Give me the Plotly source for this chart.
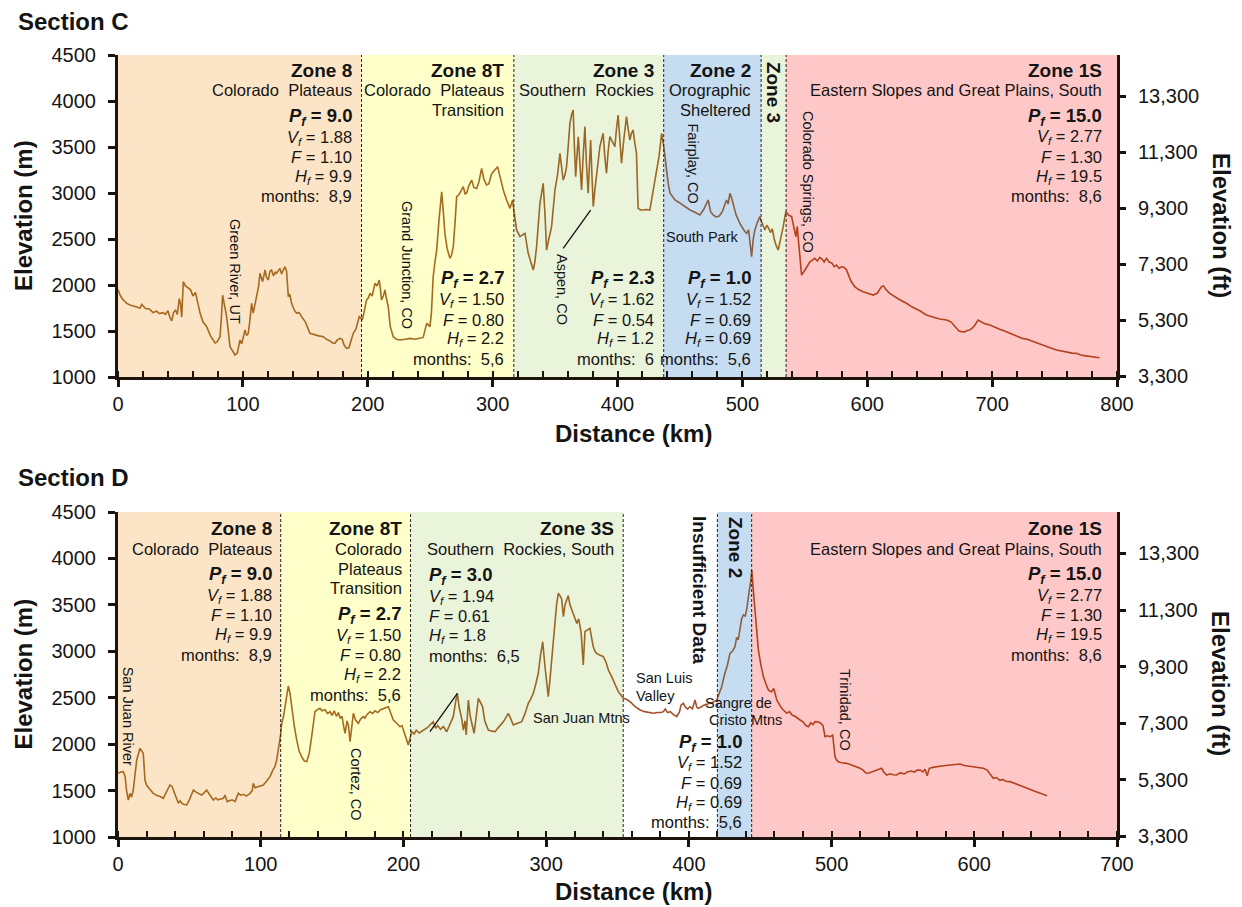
import numpy as np
import plotly.graph_objects as go

FT_PER_M = 3.28084

# ---------------- DATA ----------------
# Section C elevation profile (distance km, elevation m)
c_km = [0, 2, 4.3, 7, 9.6, 13, 15, 17.6, 19, 22, 25, 28, 31, 33, 36, 38, 40, 41.5, 43, 44.5,
        46, 47.5, 49, 50, 51, 52.3, 54, 56, 58, 60, 62, 64, 65.7, 68, 71, 74, 77.7, 79.5, 81.7, 82.8,
        83.8, 85, 87, 89.7, 91.5, 93.7, 95.5, 97.7, 99, 100.5, 101.7, 103, 104.3, 105.5, 107, 108.3, 109.5, 111, 112.5, 113.7,
        114.8, 115.8, 116.8, 117.7, 119, 120.4, 121.7, 123, 124.5, 126, 127, 128.4, 129.7, 131, 132.5, 133.7, 135, 136.4, 137.5, 139,
        140.5, 141.5, 143, 145, 147, 150, 153.7, 157, 160, 164.4, 167, 170, 172, 173.7, 175.5, 177.7, 179.5, 181, 183, 185,
        186.5, 188.4, 190.5, 192, 193.2, 194.5, 195.6, 197, 199, 200.5, 201.8, 203.5, 205.8, 207.5, 209.2, 210.2, 211, 212.5, 213.8, 215,
        216.4, 218, 220.4, 223, 225.8, 230, 233.8, 238, 241.8, 244.4, 247.2, 249.8, 251, 252.4, 253.8, 255.2, 257, 259.2, 260.5, 261.8,
        263.5, 265.8, 267, 268.5, 270, 271.2, 273, 274.5, 276.5, 278, 279.2, 281, 283.2, 285, 287.2, 289, 291.2, 293, 295.2, 297,
        299, 300.5, 302, 304, 305.5, 307.2, 309, 311.2, 313.9, 316, 317.5, 319.2, 321.9, 324, 325.9, 328.5, 330.5, 332.5, 333.8, 335.2,
        337.9, 340.5, 342, 343.2, 345, 347.2, 349.9, 352, 353.9, 355.2, 356.5, 358, 359.2, 360.5, 361.9, 363.2, 364.5, 365.5, 366.5, 367.5,
        368.6, 370, 371.2, 372.5, 373.9, 375.2, 376.5, 377.5, 378.5, 379.5, 380.6, 382, 383.3, 384.6, 385.9, 387.2, 388.5, 389.8, 391.2, 392.5,
        393.9, 395.8, 397.9, 399.2, 400.5, 401.8, 403.2, 405.2, 407.2, 408.5, 409.9, 411.2, 412.5, 413.8, 415.2, 416.5, 418.5, 420.6, 423, 425.9,
        427.3, 429.3, 431.3, 433.3, 435.3, 436.6, 437.9, 439.2, 440.6, 442, 444, 446, 449, 452, 455, 458, 462, 466, 469, 472.6,
        474.5, 476.6, 479, 481.5, 484, 486, 487.3, 488.6, 490, 491.3, 492.7, 495, 498, 500, 501.5, 503.4, 505, 506.2, 507.4, 508.7,
        510, 512, 514, 515.5, 517, 518, 519.5, 521, 522.5, 524, 525.5, 527, 528.7, 530.5, 532.7, 534.8, 537, 539.4, 541, 542.8,
        543.9, 545.5, 547.4, 549.5, 551.4, 554, 556, 558, 560, 562, 564, 565.5, 567.4, 569.5, 571.5, 573.5, 575.4, 577.5, 579.5, 581.5,
        583.4, 585, 587, 590, 593, 596.7, 600, 604.7, 608, 611.4, 613, 615, 618, 622, 626, 631.4, 636, 642, 647.4, 653,
        658, 663.5, 667, 671.5, 673.5, 675.5, 678, 680, 682.1, 684, 686, 688.8, 691, 694, 698.2, 702, 706, 710, 714.2, 719,
        724, 728, 732.8, 737, 742, 747, 751.6, 756, 760, 764, 767.6, 771, 775, 779, 783.6, 786]
c_elev = [1950, 1880, 1837, 1800, 1782, 1765, 1760, 1750, 1790, 1745, 1740, 1700, 1715, 1690, 1700, 1680, 1720, 1650, 1610, 1700,
          1730, 1680, 1850, 1800, 1650, 2036, 1990, 1970, 1950, 1880, 1920, 1800, 1695, 1600, 1547, 1450, 1370, 1385, 1438, 1650,
          1891, 1800, 1656, 1330, 1290, 1239, 1260, 1402, 1360, 1450, 1511, 1450, 1474, 1600, 1800, 1695, 1780, 1909, 1980, 2127,
          2060, 2036, 2100, 2163, 2080, 2055, 2150, 2163, 2100, 2140, 2127, 2150, 2181, 2120, 2170, 2199, 2150, 1873, 1900, 1801,
          1750, 1720, 1695, 1700, 1656, 1600, 1474, 1460, 1450, 1438, 1410, 1390, 1370, 1366, 1400, 1420, 1410, 1350, 1311, 1320,
          1390, 1474, 1520, 1600, 1656, 1640, 1620, 1700, 1837, 1860, 1909, 1880, 2018, 1990, 2054, 1950, 1837, 1880, 1946, 1850,
          1764, 1550, 1438, 1410, 1402, 1410, 1420, 1410, 1420, 1430, 1583, 1547, 1700, 2090, 2250, 2380, 2700, 3014, 2800, 2561,
          2400, 2290, 2320, 2416, 2700, 2960, 2980, 3020, 3068, 2990, 3000, 3080, 3141, 3060, 3050, 3120, 3268, 3150, 3087, 3100,
          3200, 3230, 3260, 3286, 3200, 3105, 3010, 2924, 2833, 2924, 2750, 2598, 2525, 2540, 2561, 2345, 2250, 2163, 2250, 2416,
          2888, 3105, 2750, 2380, 2500, 2634, 3032, 3200, 3431, 3300, 3141, 3200, 3286, 3500, 3757, 3850, 3902, 3500, 3177, 3400,
          3612, 3300, 3032, 3400, 3721, 3300, 2997, 3300, 3576, 3200, 2852, 3050, 3214, 3400, 3503, 3580, 3648, 3400, 3214, 3450,
          3612, 3560, 3503, 3700, 3848, 3600, 3323, 3600, 3830, 3700, 3576, 3650, 3685, 3550, 3431, 2833, 2815, 2815, 2820, 2815,
          2924, 3050, 3214, 3400, 3648, 3560, 3395, 3250, 3105, 3000, 2960, 2924, 2900, 2870, 2840, 2815, 2790, 2761, 2820, 2924,
          2800, 2761, 2740, 2750, 2800, 2870, 2924, 2880, 2997, 2950, 2888, 2760, 2670, 2620, 2590, 2561, 2600, 2450, 2308, 2500,
          2598, 2680, 2743, 2680, 2640, 2598, 2650, 2620, 2570, 2610, 2500, 2430, 2380, 2480, 2634, 2797, 2760, 2743, 2640, 2525,
          2634, 2350, 2108, 2150, 2199, 2250, 2270, 2290, 2260, 2300, 2280, 2250, 2290, 2250, 2240, 2200, 2217, 2180, 2200, 2190,
          2163, 2100, 2040, 1982, 1950, 1927, 1910, 1891, 1910, 1982, 1990, 1950, 1909, 1870, 1840, 1801, 1760, 1720, 1674, 1650,
          1630, 1620, 1600, 1529, 1500, 1493, 1490, 1505, 1511, 1530, 1560, 1620, 1600, 1580, 1565, 1540, 1520, 1500, 1474, 1450,
          1420, 1410, 1384, 1370, 1340, 1315, 1293, 1280, 1270, 1260, 1257, 1240, 1230, 1225, 1221, 1210]

# Section D elevation profile (distance km, elevation m)
d_km = [0, 2, 3.7, 5, 6, 7.2, 8.4, 9.5, 10.7, 12, 13.1, 15.4, 17.7, 18.9, 20, 22, 24.7, 27, 29, 31.7,
        34, 36.4, 38, 40, 41, 42.3, 43.5, 45, 46.5, 48.1, 50, 52.8, 55, 58.6, 60, 62.1, 64, 66.8, 68.5, 70,
        72, 73.8, 75, 76.5, 78, 80, 82, 84.3, 86, 88, 90, 92.5, 94, 94.8, 96, 98, 100, 101.8, 104, 106.5,
        108.5, 110, 111.2, 112.5, 113.5, 114.7, 116, 117, 118.2, 119.3, 120.5, 121.7, 123.5, 125.2, 127, 128.7, 130.5, 132.2, 134, 135.7,
        137, 138, 139.5, 141.5, 143, 145, 146.8, 148.6, 150, 151.5, 153, 154.5, 155.6, 157, 158, 159.1, 160.5, 161.5, 162.6, 163.7,
        164.9, 166.5, 168.4, 170, 171.9, 173, 174.5, 176.6, 178.5, 180, 182, 184, 186, 187.5, 189.4, 190.5, 192.9, 195, 197.6, 199,
        200.5, 201.5, 203.4, 205.8, 207.5, 209, 211, 213, 215, 217, 218.6, 220.9, 222.5, 224, 226, 228, 230.3, 232, 234.9, 236.5,
        237.8, 239, 240.8, 242, 243.2, 244, 245.5, 246.8, 248, 249.5, 251, 252.5, 254, 255.5, 257, 259.5, 262, 264.2, 266, 268,
        270, 272, 273.5, 275, 277, 279, 281, 282.9, 285, 287.5, 289, 291, 292.8, 294.5, 296, 297.6, 299.2, 300.5, 301.5, 302.7,
        303.9, 305, 306.2, 307.3, 308.5, 309.7, 310.9, 312.1, 313.2, 314.4, 315.5, 316.7, 317.9, 319, 320.2, 321.5, 322.8, 324.5, 326, 327.2,
        329, 330.7, 331.8, 333, 334.2, 335.4, 337.5, 340.1, 342, 343.6, 345.5, 347.1, 349, 350.6, 352.5, 354.1, 356.5, 358.8, 362, 365.8,
        369, 372, 375.1, 378, 380.5, 382.1, 383.5, 385, 387, 389, 391.5, 393.5, 394.5, 396.1, 397.5, 399, 400.8, 402.5, 404.3, 405.5,
        406.6, 408.5, 410.5, 412.5, 414.8, 417, 419.5, 421.2, 423, 425, 427, 428.8, 430.5, 432.3, 433.5, 434.6, 435.9, 437, 438.2, 439.5,
        440.5, 441.5, 442.4, 443.3, 444.1, 445.2, 446.4, 447.5, 448.7, 450.5, 452.2, 454, 455.7, 457, 458, 459.5, 461.6, 463.3, 465.1, 466.8,
        468.6, 470.5, 472.5, 474.5, 476, 477.9, 480, 482, 483.7, 485.5, 487, 488.4, 490, 492, 494, 495.4, 497, 499, 500.8, 501.6,
        502.4, 503.5, 504.7, 507, 510.6, 513, 515, 517.6, 520, 522, 524, 525.8, 528, 530, 532, 535.1, 536.5, 538.6, 541, 543,
        545.6, 548, 551, 553, 556, 558, 560, 562, 564, 565.5, 567, 568.5, 571, 574, 577, 580, 583, 586, 590, 593,
        596, 599.3, 603, 606.3, 609, 611, 613.3, 615.5, 618, 620, 622, 625, 628, 631, 634.4, 638, 641, 644, 647, 649.6, 651]
d_elev = [1686, 1700, 1703, 1650, 1500, 1398, 1470, 1430, 1506, 1650, 1829, 1955, 1901, 1614, 1560, 1520, 1470, 1450, 1440, 1417,
          1480, 1560, 1540, 1450, 1400, 1363, 1390, 1360, 1350, 1345, 1400, 1506, 1480, 1452, 1470, 1506, 1460, 1398, 1420, 1400,
          1410, 1417, 1450, 1380, 1390, 1400, 1381, 1470, 1450, 1460, 1440, 1470, 1500, 1578, 1530, 1540, 1550, 1560, 1600, 1650,
          1720, 1760, 1829, 1950, 2026, 2224, 2300, 2403, 2500, 2626, 2550, 2403, 2200, 2045, 1920, 1865, 1820, 1811, 1900, 2080,
          2250, 2349, 2370, 2386, 2360, 2370, 2330, 2349, 2310, 2360, 2300, 2340, 2278, 2300, 2200, 2117, 2250, 2200, 2026, 2200,
          2332, 2260, 2224, 2270, 2296, 2280, 2320, 2349, 2330, 2360, 2340, 2370, 2380, 2390, 2403, 2360, 2260, 2230, 2188, 2200,
          2120, 2080, 1991, 2134, 2110, 2150, 2120, 2140, 2160, 2180, 2206, 2242, 2170, 2200, 2160, 2190, 2134, 2200, 2296, 2450,
          2547, 2400, 2278, 2150, 2250, 2100, 2475, 2300, 2200, 2117, 2300, 2493, 2450, 2400, 2250, 2152, 2140, 2134, 2170, 2200,
          2240, 2290, 2332, 2280, 2206, 2220, 2230, 2242, 2320, 2440, 2480, 2547, 2650, 2763, 2950, 3103, 2834, 2600, 2511, 2700,
          2906, 3150, 3372, 3500, 3624, 3600, 3560, 3372, 3500, 3552, 3600, 3500, 3445, 3400, 3337, 3300, 3350, 3200, 2852, 3211,
          3230, 3247, 3150, 3050, 3000, 2978, 2960, 2942, 2880, 2798, 2740, 2691, 2620, 2565, 2520, 2493, 2480, 2457, 2410, 2368,
          2350, 2340, 2332, 2340, 2340, 2350, 2380, 2340, 2350, 2320, 2296, 2350, 2420, 2440, 2400, 2380, 2403, 2380, 2475, 2400,
          2386, 2400, 2420, 2430, 2440, 2450, 2475, 2540, 2619, 2750, 2850, 2978, 3000, 3050, 3150, 3122, 3265, 3350, 3391, 3380,
          3450, 3600, 3660, 3750, 3875, 3650, 3445, 3200, 3014, 2850, 2727, 2650, 2583, 2570, 2565, 2600, 2475, 2430, 2386, 2360,
          2332, 2350, 2310, 2300, 2280, 2260, 2240, 2200, 2188, 2230, 2210, 2242, 2240, 2230, 2200, 2080, 2090, 2080, 2098, 2000,
          1865, 1830, 1811, 1800, 1793, 1780, 1770, 1757, 1740, 1720, 1690, 1686, 1700, 1710, 1720, 1740, 1700, 1668, 1680, 1670,
          1668, 1690, 1680, 1700, 1710, 1700, 1720, 1722, 1700, 1730, 1660, 1740, 1750, 1760, 1765, 1770, 1775, 1780, 1786, 1770,
          1765, 1757, 1750, 1740, 1720, 1680, 1632, 1640, 1610, 1620, 1600, 1596, 1580, 1560, 1542, 1520, 1500, 1485, 1465, 1452, 1445]

# Zone boundaries (km)
c_edges = [0, 195, 317, 437, 515, 535, 800]
d_edges = [0, 114, 205, 354, 420, 444, 700]

# Zone parameters, Section C
c_zone_titles = ["Zone 8", "Zone 8T", "Zone 3", "Zone 2", "Zone 3", "Zone 1S"]
c_zone_desc = [["Colorado\u00a0 Plateaus"], ["Colorado\u00a0 Plateaus", "Transition"], ["Southern\u00a0 Rockies"],
               ["Orographic", "Sheltered"], [], ["Eastern Slopes and Great Plains, South"]]
c_pf = ["9.0", "2.7", "2.3", "1.0", None, "15.0"]
c_vf = ["1.88", "1.50", "1.62", "1.52", None, "2.77"]
c_F = ["1.10", "0.80", "0.54", "0.69", None, "1.30"]
c_hf = ["9.9", "2.2", "1.2", "0.69", None, "19.5"]
c_months = ["8,9", "5,6", "6", "5,6", None, "8,6"]

# Zone parameters, Section D
d_zone_titles = ["Zone 8", "Zone 8T", "Zone 3S", "Insufficient Data", "Zone 2", "Zone 1S"]
d_zone_desc = [["Colorado\u00a0 Plateaus"], ["Colorado", "Plateaus", "Transition"], ["Southern\u00a0 Rockies, South"],
               [], [], ["Eastern Slopes and Great Plains, South"]]
d_pf = ["9.0", "2.7", "3.0", None, "1.0", "15.0"]
d_vf = ["1.88", "1.50", "1.94", None, "1.52", "2.77"]
d_F = ["1.10", "0.80", "0.61", None, "0.69", "1.30"]
d_hf = ["9.9", "2.2", "1.8", None, "0.69", "19.5"]
d_months = ["8,9", "5,6", "6,5", None, "5,6", "8,6"]

# Place labels
c_places = ["Green River, UT", "Grand Junction, CO", "Aspen, CO", "Fairplay, CO", "Colorado Springs, CO"]
d_places = ["San Juan River", "Cortez, CO", "Trinidad, CO"]
# leader lines (km, m)
c_leader_km, c_leader_m = [356.5, 378.5], [2399, 2815]
d_leader_km, d_leader_m = [218.6, 237.8], [2134, 2547]

ft_ticks = [3300, 5300, 7300, 9300, 11300, 13300]
ft_ticktext = ["3,300", "5,300", "7,300", "9,300", "11,300", "13,300"]

# ---------------- STYLE ----------------
W, H = 1242, 907
OFF = 8                        # page body margin offset (screen px = figure px + OFF)
SPL, SPR = 118, 1117           # target plot left/right on screen
PL, PR = SPL - OFF, SPR - OFF  # in figure coordinates
FONT = "Liberation Sans, Arial, sans-serif"
INK = "#141414"
AX = "#1c140c"
FILL = {"8": "#FCE5C6", "8T": "#FFFFC9", "3": "#EAF4DB", "2": "#C6DCF0", "1S": "#FFC8C8", "none": "rgba(0,0,0,0)"}
LINE = {"8": "#A5691F", "8T": "#A56A20", "3": "#9C6624", "2": "#8A6044", "1S": "#B4421D", "none": "#A4522B"}
c_keys = ["8", "8T", "3", "2", "3", "1S"]
d_keys = ["8", "8T", "3", "none", "2", "1S"]

fig = go.Figure()


def segments(km, elev, edges):
    km = np.asarray(km, float)
    el = np.asarray(elev, float)
    out = []
    for a, b in zip(edges[:-1], edges[1:]):
        lo, hi = max(a, km[0]), min(b, km[-1])
        if lo >= hi:
            out.append(None)
            continue
        inside = (km > lo) & (km < hi)
        xs = np.concatenate([[lo], km[inside], [hi]])
        out.append((xs, np.interp(xs, km, el)))
    return out


def add_profile(km, elev, edges, keys, xa, ya, ya_ft):
    for seg, k in zip(segments(km, elev, edges), keys):
        if seg is None:
            continue
        fig.add_trace(go.Scatter(x=seg[0], y=seg[1], xaxis=xa, yaxis=ya, mode="lines",
                                 line=dict(color=LINE[k], width=1.6), hoverinfo="skip", showlegend=False))
    fig.add_trace(go.Scatter(x=km, y=np.asarray(elev) * FT_PER_M, xaxis=xa, yaxis=ya_ft, mode="lines",
                             line=dict(color="rgba(0,0,0,0)", width=0), hoverinfo="skip", showlegend=False))


add_profile(c_km, c_elev, c_edges, c_keys, "x", "y", "y2")
add_profile(d_km, d_elev, d_edges, d_keys, "x2", "y3", "y4")

for lk, lm, xa, ya in [(c_leader_km, c_leader_m, "x", "y"), (d_leader_km, d_leader_m, "x2", "y3")]:
    fig.add_trace(go.Scatter(x=lk, y=lm, xaxis=xa, yaxis=ya, mode="lines",
                             line=dict(color="#111", width=1.3), hoverinfo="skip", showlegend=False))

shapes = []
for edges, keys, xr, yr in [(c_edges, c_keys, "x", "y"), (d_edges, d_keys, "x2", "y3")]:
    for a, b, k in zip(edges[:-1], edges[1:], keys):
        shapes.append(dict(type="rect", xref=xr, yref=yr, x0=a, x1=b, y0=1000, y1=4500,
                           fillcolor=FILL[k], line=dict(width=0), layer="below"))
    for e in edges[1:-1]:
        shapes.append(dict(type="line", xref=xr, yref=yr, x0=e, x1=e, y0=1000, y1=4500,
                           line=dict(color="#222", width=1, dash="3px,2px"), layer="above"))


def P(ypx):
    """screen y pixel -> paper y"""
    return 1 - (ypx - OFF) / H


def xp(px):
    """screen x pixel -> paper x"""
    return (px - SPL) / (SPR - SPL)


def note(text, x, ypx, size, xref="paper", xanchor="center", angle=0, xshift=0):
    fig.add_annotation(text=text, x=x, y=P(ypx), xref=xref, yref="paper", xanchor=xanchor,
                       yanchor="middle", showarrow=False, textangle=angle, xshift=xshift, borderpad=0,
                       font=dict(family=FONT, size=size, color=INK))


def title_block(title, desc, x, xref, ypx, xanchor="right", xshift=-9):
    note("<b>%s</b>" % title, x, ypx, 19, xref, xanchor, xshift=xshift)
    for i, d in enumerate(desc):
        note(d, x, ypx + 20.5 + 19.8 * i, 16.5, xref, xanchor, xshift=xshift)


def param_block(pf, vf, F, hf, months, x, xref, ypx, xanchor="right", xshift=-9):
    note("<b><i>P<sub>f</sub></i> = %s</b>" % pf, x, ypx, 18.5, xref, xanchor, xshift=xshift)
    lines = ["<i>V<sub>f</sub></i> = %s" % vf, "<i>F</i> = %s" % F,
             "<i>H<sub>f</sub></i> = %s" % hf, "months:\u00a0 %s" % months]
    for i, t in enumerate(lines):
        note(t, x, ypx + 20.7 + 19.6 * i, 16.5, xref, xanchor, xshift=xshift)


# Section C zone texts
c_title_y = 70
c_param_y = [117, 279.3, 279.3, 279.3, None, 116.7]
for i in range(6):
    right = c_edges[i + 1]
    if i == 4:
        note("<b>%s</b>" % c_zone_titles[i], (c_edges[4] + c_edges[5]) / 2, 92.5, 19, "x", angle=90)
        continue
    sh = -14 if i == 5 else -9
    title_block(c_zone_titles[i], c_zone_desc[i], right, "x", c_title_y, xshift=sh)
    param_block(c_pf[i], c_vf[i], c_F[i], c_hf[i], c_months[i], right, "x", c_param_y[i], xshift=sh)

# Section D zone texts
d_title_y = 528.3
for i in [0, 1, 2, 5]:
    sh = -14 if i == 5 else -8
    title_block(d_zone_titles[i], d_zone_desc[i], d_edges[i + 1], "x2", d_title_y, xshift=sh)
param_block(d_pf[0], d_vf[0], d_F[0], d_hf[0], d_months[0], d_edges[1], "x2", 575, xshift=-8)
param_block(d_pf[1], d_vf[1], d_F[1], d_hf[1], d_months[1], d_edges[2], "x2", 615, xshift=-9)
param_block(d_pf[2], d_vf[2], d_F[2], d_hf[2], d_months[2], xp(428), "paper", 576, xanchor="left", xshift=0)
param_block(d_pf[4], d_vf[4], d_F[4], d_hf[4], d_months[4], d_edges[5], "x2", 742.7, xshift=-9)
param_block(d_pf[5], d_vf[5], d_F[5], d_hf[5], d_months[5], d_edges[6], "x2", 575, xshift=-14)
note("<b>%s</b>" % d_zone_titles[3], xp(700), 590, 19, angle=90)
note("<b>%s</b>" % d_zone_titles[4], xp(735.5), 547.5, 19, angle=90)

# place labels (rotated)
for name, px, py in zip(c_places, [235, 407, 562, 693, 808], [271, 265, 289, 163.5, 182]):
    note(name, xp(px), py, 14.5, angle=90)
note("South Park", xp(701.5), 236.7, 14.5)
for name, px, py in zip(d_places, [128.3, 356, 845], [716, 784, 710]):
    note(name, xp(px), py, 14.5, angle=90)
note("San Juan Mtns", xp(581.7), 718, 14.5)
note("San Luis", xp(635), 678.3, 14.5, xanchor="left")
note("Valley", xp(635), 695.7, 14.5, xanchor="left")
note("Sangre de", xp(738.3), 703.3, 14.5)
note("Cristo Mtns", xp(745), 720, 14.5)

# section titles and axis titles
note("<b>Section C</b>", xp(17), 21, 24, xanchor="left")
note("<b>Section D</b>", xp(17), 478, 24, xanchor="left")
for yc, yft, yd in [(216, 225, 433), (674.5, 683, 891)]:
    note("<b>Elevation (m)</b>", xp(23), yc, 24, angle=-90)
    note("<b>Elevation (ft)</b>", xp(1221), yft, 24, angle=90)
    note("<b>Distance (km)</b>", xp(633), yd, 24)

tickfont = dict(family=FONT, size=20, color=INK)


def xaxis(rng, anchor):
    return dict(domain=[0, 1], anchor=anchor, range=rng, dtick=100, tick0=0, showgrid=False, zeroline=False,
                showline=True, linewidth=3, linecolor=AX, ticks="outside", ticklen=7, tickwidth=2.5,
                tickcolor=AX, tickfont=tickfont, ticklabelstandoff=0, automargin=False,
                minor=dict(dtick=20, tick0=0, ticks="inside", ticklen=6, tickwidth=2, tickcolor=AX))


def yaxis(dom, anchor):
    return dict(domain=dom, anchor=anchor, range=[1000, 4500], dtick=500, tick0=1000, showgrid=False,
                zeroline=False, showline=True, linewidth=3, linecolor=AX, ticks="outside", ticklen=7,
                tickwidth=2.5, tickcolor=AX, tickfont=tickfont, ticklabelstandoff=8, automargin=False)


def ftaxis(over, anchor):
    return dict(overlaying=over, side="right", anchor=anchor, range=[1000 * FT_PER_M, 4500 * FT_PER_M],
                tickmode="array", tickvals=ft_ticks, ticktext=ft_ticktext, showgrid=False, zeroline=False,
                showline=True, linewidth=3, linecolor=AX, ticks="outside", ticklen=6, tickwidth=2.5,
                tickcolor=AX, tickfont=tickfont, ticklabelstandoff=8, automargin=False)


fig.update_layout(
    template="none",
    width=W, height=H, autosize=False, margin=dict(l=PL, r=W - PR, t=0, b=0, pad=0),
    paper_bgcolor="white", plot_bgcolor="white", showlegend=False,
    xaxis=xaxis([0, 800], "y"),
    yaxis=yaxis([P(377), P(55)], "x"),
    yaxis2=ftaxis("y", "x"),
    xaxis2=xaxis([0, 700], "y3"),
    yaxis3=yaxis([P(837), P(512)], "x2"),
    yaxis4=ftaxis("y3", "x2"),
    shapes=shapes,
    font=dict(family=FONT, color=INK),
)

fig.write_html("out.html")
